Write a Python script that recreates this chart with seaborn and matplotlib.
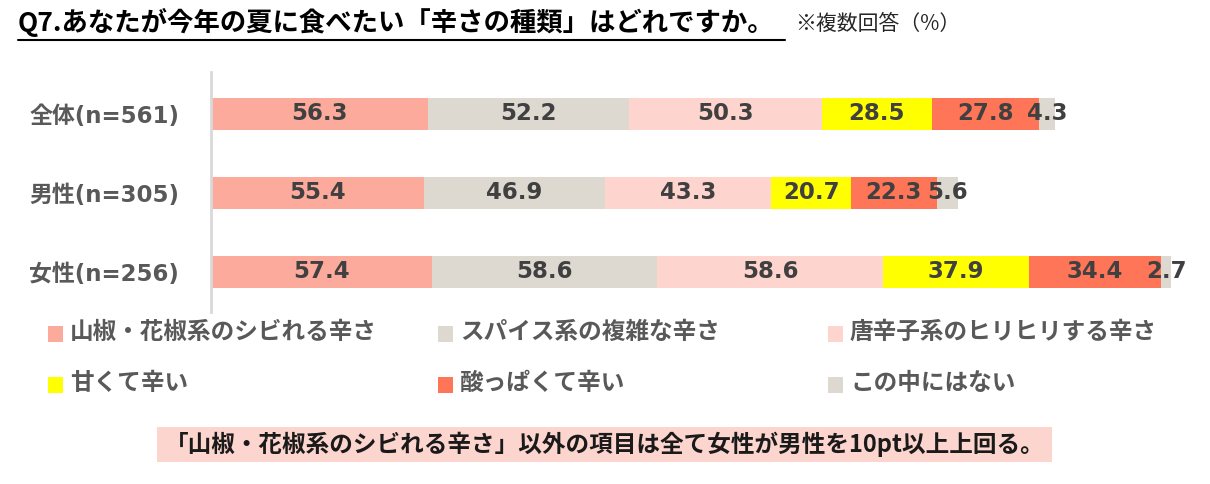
import numpy as np
import matplotlib
matplotlib.use("Agg")
import matplotlib.pyplot as plt
from matplotlib.patches import Rectangle
from matplotlib.lines import Line2D
import seaborn as sns

sns.set_theme(style="white")
plt.rcParams['font.family'] = ['DejaVu Sans', 'Noto Sans CJK JP']

# ---- data ----
groups = ["全体(n=561)", "男性(n=305)", "女性(n=256)"]
series_names = ["山椒・花椒系のシビれる辛さ", "スパイス系の複雑な辛さ", "唐辛子系のヒリヒリする辛さ",
                "甘くて辛い", "酸っぱくて辛い", "この中にはない"]
sansho = [56.3, 55.4, 57.4]
spice = [52.2, 46.9, 58.6]
togarashi = [50.3, 43.3, 58.6]
amai = [28.5, 20.7, 37.9]
suppai = [27.8, 22.3, 34.4]
nashi = [4.3, 5.6, 2.7]
colors = ["#FBAA9C", "#DDD9D1", "#FDD4CE", "#FFFF00", "#FF7557", "#DDD9D1"]

title = "Q7.あなたが今年の夏に食べたい「辛さの種類」はどれですか。"
subtitle = "※複数回答（%）"
note = "「山椒・花椒系のシビれる辛さ」以外の項目は全て女性が男性を10pt以上上回る。"

values = np.array([sansho, spice, togarashi, amai, suppai, nashi])
cum = np.cumsum(values, axis=0)

W, H = 1210, 484
fig = plt.figure(figsize=(W / 100, H / 100), dpi=100)
ax = fig.add_axes([211 / W, 1 - 312 / H, 962 / W, 240 / H])

# stacked bars: draw cumulative totals from last series to first
for k in range(len(series_names) - 1, -1, -1):
    sns.barplot(x=cum[k], y=groups, orient="y", color=colors[k], saturation=1,
                width=0.405, errorbar=None, linewidth=0, edgecolor="none", ax=ax)

ax.set_xlim(0, 250)
ax.set_ylim(2.51, -0.53)
ax.set_xlabel("")
ax.set_ylabel("")
ax.set_xticks([])
ax.set_yticks(range(len(groups)))
ax.set_yticklabels(groups, fontsize=16.5, fontweight="bold", color="#595959")
ax.tick_params(axis="y", left=False, pad=17)
for s in ["top", "right", "bottom"]:
    ax.spines[s].set_visible(False)
ax.spines["left"].set_color("#D9D9D9")
ax.spines["left"].set_linewidth(2)

# value labels
for k in range(len(series_names)):
    for i in range(len(groups)):
        xc = cum[k][i] - values[k][i] / 2
        ax.text(xc, i, f"{values[k][i]:.1f}", ha="center", va="center",
                fontsize=16.5, fontweight="bold", color="#404040", clip_on=False)

cjk = ['Noto Sans CJK JP', 'DejaVu Sans']

# title
fig.text(18 / W, 1 - 22 / H, title, fontsize=19, fontweight="bold", color="black",
         ha="left", va="center", family=cjk)
fig.add_artist(Line2D([18 / W, 785 / W], [1 - 40 / H, 1 - 40 / H], color="black",
                      lw=1.5, transform=fig.transFigure))
fig.text(795 / W, 1 - 24 / H, subtitle, fontsize=15, color="#262626",
         ha="left", va="center", family=cjk)

# legend
sq_x = [48, 438, 828]
row_y = [334, 385]
for k, name in enumerate(series_names):
    r, c = divmod(k, 3)
    x0 = sq_x[c]
    yc = row_y[r]
    fig.add_artist(Rectangle((x0 / W, 1 - (yc + 8) / H), 15 / W, 16 / H,
                             facecolor=colors[k], edgecolor="none",
                             transform=fig.transFigure))
    fig.text((x0 + 22) / W, 1 - (yc - 2) / H, name, fontsize=17, fontweight="bold",
             color="#595959", ha="left", va="center", family=cjk)

# note box
fig.add_artist(Rectangle((157 / W, 1 - 462 / H), (1052 - 157) / W, 35 / H,
                         facecolor="#FCD5CE", edgecolor="none", transform=fig.transFigure))
fig.text(605 / W, 1 - 444 / H, note, fontsize=17, fontweight="bold", color="#1a1a1a",
         ha="center", va="center", family=cjk)

fig.savefig("out.png", dpi=100)
